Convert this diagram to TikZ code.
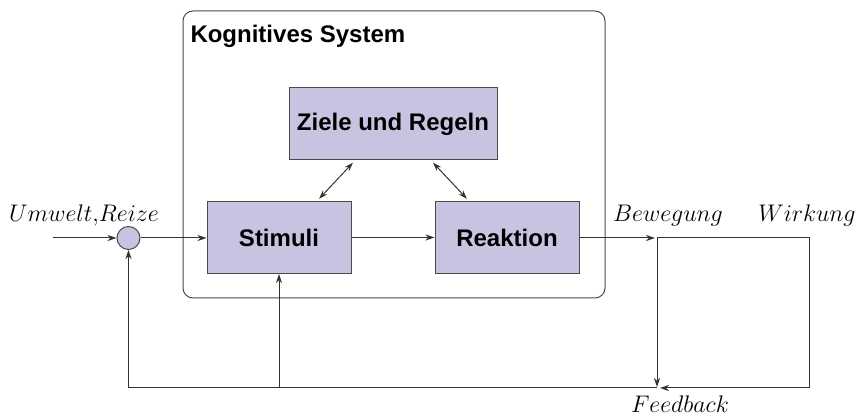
\documentclass[tikz,border=0pt]{standalone}
\usepackage{fontspec}
\setsansfont{Liberation Sans}
\usetikzlibrary{arrows.meta}
\definecolor{boxfill}{HTML}{C7C4E1}
\definecolor{edge}{HTML}{4A4A4A}
\begin{document}
\begin{tikzpicture}[x=0.5pt,y=-0.5pt,
  line width=0.5pt,
  conn/.style={draw=black!80, -{Stealth[length=4.5pt,width=3pt]}},
  twoway/.style={draw=black!80, {Stealth[length=4.5pt,width=3pt]}-{Stealth[length=4.5pt,width=3pt]}, shorten <=1.5pt, shorten >=1.5pt},
  block/.style={draw=edge, fill=boxfill, minimum width=72pt, minimum height=36pt, inner sep=0pt,
    font=\sffamily\bfseries\fontsize{12}{14}\selectfont},
  sig/.style={font=\fontsize{12}{14}\selectfont, inner sep=0pt, anchor=base},
]
\useasboundingbox (0,0) rectangle (858,416);

% cognitive system container
\node[draw=edge, rounded corners=5pt, minimum width=211pt, minimum height=143.5pt, inner sep=0pt] (sys) at (394,154.5) {};
\node[anchor=base west, inner sep=0pt, font=\sffamily\bfseries\fontsize{12}{14}\selectfont] (title) at (190,43) {Kognitives System};

% blocks
\node[block, minimum width=104pt] (ziel) at (393,124) {Ziele und Regeln};
\node[block] (stim) at (279,237.5) {Stimuli};
\node[block] (reak) at (507,237.5) {Reaktion};
\node[circle, draw=edge, fill=boxfill, minimum size=11.5pt, inner sep=0pt] (sum) at (128.5,238) {};

% signal labels
\node[sig] (lin) at (84,222) {$Umwelt{,}Reize$};
\node[sig] (lbew) at (668,222) {$Bewegung$};
\node[sig] (lwir) at (807,222) {$Wirkung$};
\node[sig] (lfb) at (680,413) {$Feedback$};

% helper points
\coordinate (in) at (53,238);
\coordinate (branch) at (657,238);
\coordinate (wturn) at (809,238);
\coordinate (wcorner) at (809,388);
\coordinate (fb) at (657,388);
\coordinate (tap) at (stim.south |- fb);

% forward path
\draw[conn] (in) -- (sum);
\draw[conn] (sum) -- (stim.west |- sum);
\draw[conn] (stim) -- (reak);
\draw[conn, shorten >=1pt] (reak.east |- branch) -- (branch);

% links to goals and rules
\draw[twoway] ([xshift=-19pt]ziel.south) -- ([xshift=19pt]stim.north);
\draw[twoway] ([xshift=19pt]ziel.south) -- ([xshift=-19pt]reak.north);

% effect and feedback loop
\draw[conn, shorten >=0.5pt] (branch) -- (fb);
\draw[conn, shorten >=1.5pt] (branch) -- (wturn) -- (wcorner) -- (fb);
\draw[conn] (fb) -| (sum.south);
\draw[conn] (tap) -- (stim.south);
\end{tikzpicture}
\end{document}
